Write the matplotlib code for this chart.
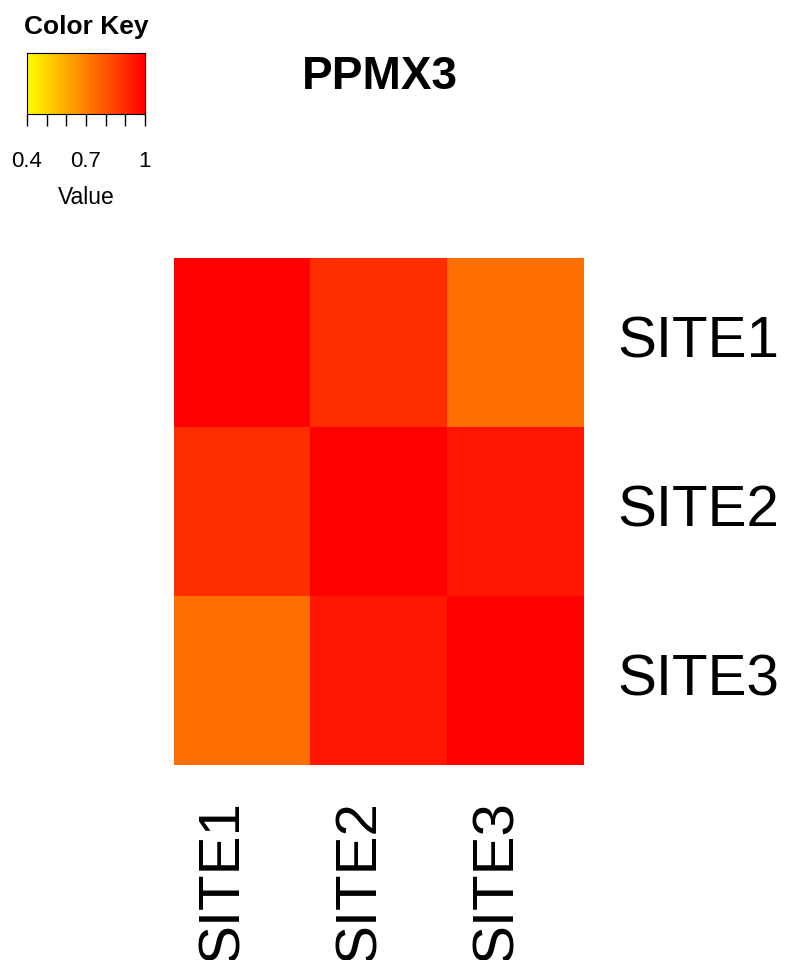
import numpy as np
import matplotlib.pyplot as plt
from matplotlib.colors import LinearSegmentedColormap

plt.rcParams['font.family'] = ['Liberation Sans', 'DejaVu Sans']

# ---- data ----
sites = ["SITE1", "SITE2", "SITE3"]
corr = np.array([
    [1.00, 0.89, 0.74],
    [0.89, 1.00, 0.95],
    [0.74, 0.95, 1.00],
])
title = "PPMX3"
vmin, vmax = 0.4, 1.0
key_ticks = [0.4, 0.5, 0.6, 0.7, 0.8, 0.9, 1.0]
key_labels = ["0.4", "", "", "0.7", "", "", "1"]

cmap = LinearSegmentedColormap.from_list("yr", ["#FFFF00", "#FF0000"])

W, H = 789, 960
PT = 72 / 100  # points per pixel
fig = plt.figure(figsize=(W / 100, H / 100), dpi=100)

def box(x0, y0, x1, y1):
    # pixel box -> figure fraction
    return [x0 / W, 1 - y1 / H, (x1 - x0) / W, (y1 - y0) / H]

# ---- heatmap ----
ax = fig.add_axes(box(174, 258, 584, 765))
ax.imshow(corr, cmap=cmap, vmin=vmin, vmax=vmax, aspect='auto', interpolation='nearest')
ax.set_xticks([])
ax.set_yticks([])
for s in ax.spines.values():
    s.set_visible(False)

for i, lab in enumerate(sites):
    ax.annotate(lab, xy=(1, 1 - (i + 0.5) / 3), xycoords='axes fraction',
                xytext=(33 * PT, 0), textcoords='offset points',
                ha='left', va='center', fontsize=42)
    # column labels run off the bottom edge, as in the original
    ax.annotate(lab, xy=((i + 0.5) / 3, 0), xycoords='axes fraction',
                xytext=(-4 * PT, -35 * PT), textcoords='offset points',
                rotation=90, rotation_mode='anchor', ha='right', va='baseline',
                fontsize=42)

fig.text(380 / W, 1 - 77 / H, title, ha='center', va='center',
         fontsize=33, fontweight='bold')

# ---- color key ----
kax = fig.add_axes(box(27, 53, 145, 114))
grad = np.linspace(vmin, vmax, 256).reshape(1, -1)
kax.imshow(grad, cmap=cmap, vmin=vmin, vmax=vmax, aspect='auto',
           extent=[vmin, vmax, 0, 1])
kax.set_yticks([])
kax.set_xticks(key_ticks)
kax.set_xticklabels(key_labels, fontsize=16)
kax.tick_params(axis='x', length=12 * PT, width=1, pad=18)
for s in kax.spines.values():
    s.set_linewidth(0.8)
kax.set_xlabel("Value", fontsize=16.5, labelpad=10)
fig.text(86 / W, 1 - 27 / H, "Color Key", ha='center', va='center',
         fontsize=19, fontweight='bold')

fig.savefig("out.png", dpi=100)
